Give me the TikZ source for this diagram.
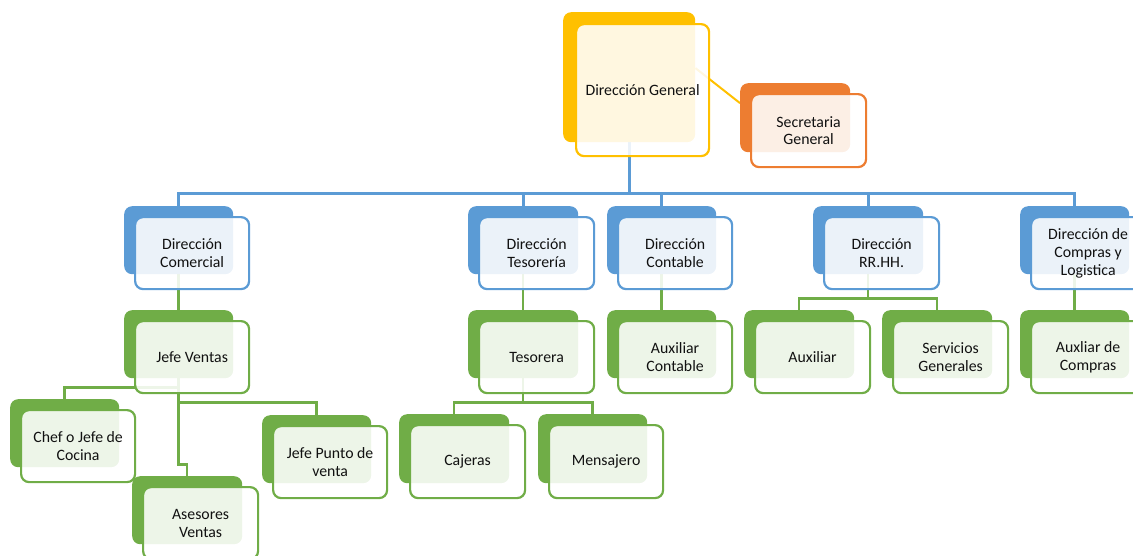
\documentclass[tikz,border=0pt]{standalone}
\usepackage{fontspec}
\setmainfont{Carlito}
\usetikzlibrary{calc}
\pgfdeclarelayer{bg}
\pgfsetlayers{bg,main}
\definecolor{cyel}{HTML}{FFC000}
\definecolor{corg}{HTML}{ED7D31}
\definecolor{cblu}{HTML}{5B9BD5}
\definecolor{cgrn}{HTML}{70AD47}
\definecolor{ctxt}{HTML}{111111}
\tikzset{
  backbox/.style={rectangle, rounded corners=8pt, inner sep=0pt, anchor=north west, draw=none},
  frontbox/.style={rectangle, rounded corners=8pt, inner sep=2pt, anchor=north west,
    fill=white, fill opacity=0.88, text opacity=1, line width=2.2pt, align=center,
    text=ctxt, font=\fontsize{15.8}{17.8}\selectfont},
  conblue/.style={draw=cblu, line width=3pt},
  congrn/.style={draw=cgrn, line width=2.5pt},
  conyel/.style={draw=cyel, line width=2pt},
}
\newcommand\obox[7]{%
  \node[backbox, fill=#2, minimum width=#5pt, minimum height=#6pt] (b-#1) at (#3,#4) {};
  \node[frontbox, draw=#2, minimum width=#5pt+5pt, minimum height=#6pt+4pt] (#1) at (#3+10,#4+10) {#7};
}
\begin{document}
\begin{tikzpicture}[x=1pt, y=-1pt]
\useasboundingbox (0,0) rectangle (1133,555);
\clip (0,0) rectangle (1133,555);
% top
\node[backbox, fill=cyel, minimum width=132pt, minimum height=130pt] (b-dg) at (563,12) {};
\node[frontbox, draw=cyel, minimum width=133pt, minimum height=132pt] (dg) at (575,23) {Dirección General};
\obox{sec}{corg}{740}{83}{110}{69}{Secretaria\\General}
% level 1
\obox{com}{cblu}{124}{206}{109}{68}{Dirección\\Comercial}
\obox{tes}{cblu}{468}{206}{110}{68}{Dirección\\Tesorería}
\obox{con}{cblu}{607}{206}{109}{68}{Dirección\\Contable}
\obox{rrhh}{cblu}{813}{206}{110}{68}{Dirección\\RR.HH.}
\obox{comp}{cblu}{1020}{206}{109}{68}{Dirección de\\Compras y\\Logistica}
% level 2
\obox{jv}{cgrn}{124}{310}{109}{68}{Jefe Ventas}
\obox{tesa}{cgrn}{468}{310}{110}{68}{Tesorera}
\obox{auxc}{cgrn}{607}{310}{109}{68}{Auxiliar\\Contable}
\obox{aux}{cgrn}{744}{310}{110}{68}{Auxiliar}
\obox{serv}{cgrn}{882}{310}{110}{68}{Servicios\\Generales}
\obox{auxcomp}{cgrn}{1020}{310}{109}{68}{Auxliar de\\Compras}
% level 3
\obox{chef}{cgrn}{10}{399}{109}{68}{Chef o Jefe de\\Cocina}
\obox{ases}{cgrn}{132}{476}{110}{68}{Asesores\\Ventas}
\obox{punto}{cgrn}{262}{415}{109}{68}{Jefe Punto de\\venta}
\obox{caj}{cgrn}{399}{414}{110}{69}{Cajeras}
\obox{mens}{cgrn}{538}{414}{109}{69}{Mensajero}
% connectors
\begin{pgfonlayer}{bg}
  \coordinate (bus) at (0,193);
  \draw[conyel] ($(b-dg.north east)!0.43!(b-dg.south east)$) -- ($(b-sec.north west)!0.29!(b-sec.south west)$);
  \draw[conblue] (b-dg.south) -- (b-dg.south |- bus);
  \draw[conblue] (b-com.north) -- (b-com.north |- bus) -- (b-comp.north |- bus) -- (b-comp.north);
  \draw[conblue] (b-tes.north) -- (b-tes.north |- bus);
  \draw[conblue] (b-con.north) -- (b-con.north |- bus);
  \draw[conblue] (b-rrhh.north) -- (b-rrhh.north |- bus);
  \draw[congrn] (b-com.south) -- (b-jv.north);
  \draw[congrn] (b-tes.south) -- (b-tesa.north);
  \draw[congrn] (b-con.south) -- (b-auxc.north);
  \draw[congrn] (b-comp.south) -- (b-auxcomp.north);
  \coordinate (r) at ($(b-rrhh.south)+(0,24)$);
  \draw[congrn] (b-rrhh.south) -- (r);
  \draw[congrn] (b-aux.north) |- (r) -| (b-serv.north);
  \coordinate (jc) at ($(b-jv.south)+(0,9)$);
  \coordinate (jp) at ($(b-jv.south)+(0,24)$);
  \coordinate (ja) at ($(b-jv.south)+(0,86)$);
  \draw[congrn] (b-jv.south) -- (ja) -| (b-ases.north);
  \draw[congrn] (b-chef.north) |- (jc);
  \draw[congrn] (b-punto.north) |- (jp);
  \coordinate (t) at ($(b-tesa.south)+(0,24)$);
  \draw[congrn] (b-tesa.south) -- (t);
  \draw[congrn] (b-caj.north) |- (t) -| (b-mens.north);
\end{pgfonlayer}
\end{tikzpicture}
\end{document}
